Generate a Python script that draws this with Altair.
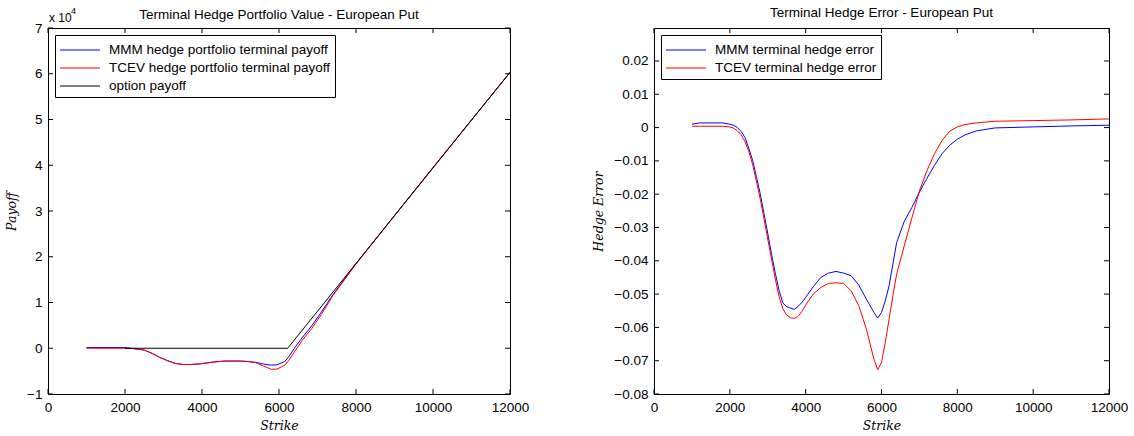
import altair as alt
import pandas as pd

# ---------------- Left panel: terminal hedge portfolio value ----------------
pv_strike = [1000, 2000, 2200, 2500, 2700, 2900, 3100, 3300, 3500, 3700, 3900, 4100,
             4300, 4600, 5000, 5200, 5400, 5600, 5800, 5950, 6150, 6250, 6400, 6600,
             6850, 7100, 7400, 8000, 9000, 10000, 11000, 12000]
pv_mmm = [150, 150, -50, -400, -1100, -2000, -2700, -3300, -3550, -3550, -3450, -3250,
          -3000, -2800, -2800, -2900, -3100, -3450, -3700, -3600, -2900, -1900, 0, 2300,
          4900, 7900, 11700, 18500, 29000, 39500, 49900, 60300]
pv_tcev = [0, 0, -50, -400, -1100, -2000, -2700, -3300, -3550, -3550, -3450, -3250,
           -3000, -2800, -2800, -2900, -3150, -3900, -4600, -4550, -3700, -2700, -800, 1700,
           4300, 7400, 11500, 18400, 29000, 39500, 49900, 60300]
opt_strike = [2000, 6225, 12000]
opt_payoff = [0, 0, 60300]
pv_series = ["MMM hedge portfolio terminal payoff",
             "TCEV hedge portfolio terminal payoff",
             "option payoff"]

# ---------------- Right panel: terminal hedge error ----------------
he_strike = [1000, 1200, 1800, 2000, 2100, 2200, 2300, 2400, 2500, 2600, 2700, 2800,
             2900, 3000, 3100, 3200, 3300, 3400, 3500, 3600, 3700, 3800, 3900, 4000,
             4200, 4400, 4600, 4800, 5000, 5200, 5400, 5600, 5800, 5900, 6000, 6100,
             6200, 6300, 6400, 6600, 6800, 7000, 7200, 7400, 7600, 7800, 8000, 8200,
             8500, 9000, 10000, 11000, 12000]
he_mmm = [0.0010, 0.0014, 0.0014, 0.0010, 0.0007, 0.0000, -0.0012, -0.0030, -0.0062,
          -0.0098, -0.0147, -0.0198, -0.0258, -0.0318, -0.0380, -0.0437, -0.0490,
          -0.0527, -0.0538, -0.0542, -0.0546, -0.0537, -0.0525, -0.0510, -0.0478,
          -0.0450, -0.0437, -0.0432, -0.0437, -0.0445, -0.0473, -0.0515, -0.0555,
          -0.0572, -0.0555, -0.0520, -0.0475, -0.0410, -0.0345, -0.0282, -0.0240,
          -0.0194, -0.0152, -0.0113, -0.0078, -0.0053, -0.0035, -0.0022, -0.0010,
          -0.0001, 0.0002, 0.0005, 0.0007]
he_tcev = [0.0004, 0.0004, 0.0004, 0.0002, -0.0002, -0.0010, -0.0022, -0.0042, -0.0072,
           -0.0110, -0.0160, -0.0213, -0.0272, -0.0335, -0.0395, -0.0455, -0.0508,
           -0.0545, -0.0563, -0.0571, -0.0573, -0.0567, -0.0552, -0.0533, -0.0500,
           -0.0480, -0.0468, -0.0466, -0.0468, -0.0490, -0.0535, -0.0605, -0.0695,
           -0.0727, -0.0705, -0.0645, -0.0575, -0.0505, -0.0440, -0.0355, -0.0272,
           -0.0190, -0.0129, -0.0078, -0.0038, -0.0011, 0.0002, 0.0009, 0.0014,
           0.0019, 0.0021, 0.0023, 0.0026]
he_series = ["MMM terminal hedge error", "TCEV terminal hedge error"]

x_ticks = [0, 2000, 4000, 6000, 8000, 10000, 12000]
pv_y_ticks = [-10000, 0, 10000, 20000, 30000, 40000, 50000, 60000, 70000]
he_y_ticks = [-0.08, -0.07, -0.06, -0.05, -0.04, -0.03, -0.02, -0.01, 0, 0.01, 0.02]

BLUE, RED, BLACK = "#0000ff", "#ff0000", "#000000"
FONT = "Liberation Sans"
SERIF = "DejaVu Serif"
FS = 13.5
TICK = 5

# ---------------- tables ----------------
pv_df = pd.concat([
    pd.DataFrame({"strike": pv_strike, "value": pv_mmm, "series": pv_series[0]}),
    pd.DataFrame({"strike": pv_strike, "value": pv_tcev, "series": pv_series[1]}),
    pd.DataFrame({"strike": opt_strike, "value": opt_payoff, "series": pv_series[2]}),
])
he_df = pd.concat([
    pd.DataFrame({"strike": he_strike, "value": he_mmm, "series": he_series[0]}),
    pd.DataFrame({"strike": he_strike, "value": he_tcev, "series": he_series[1]}),
])


def legend():
    return alt.Legend(
        orient="top-left", title=None, symbolType="M-1,0H3", symbolSize=400,
        symbolStrokeWidth=1.2, strokeColor="black", fillColor="white",
        padding=4, offset=7, labelFont=FONT, labelFontSize=FS, labelColor="black",
        labelOffset=28, rowPadding=0, labelLimit=400,
    )


def panel(df, series, colors, ydom, yticks, ytitle, W, H, label_expr):
    xs = alt.Scale(domain=[0, 12000], nice=False, zero=False)
    ys = alt.Scale(domain=ydom, nice=False, zero=False)
    xaxis = alt.Axis(values=x_ticks, title="Strike", ticks=False, domain=False,
                     grid=False, labelPadding=6, titlePadding=6, format="d",
                     labelFlush=False, labelOverlap=False)
    yaxis = alt.Axis(values=yticks, title=ytitle, ticks=False, domain=False,
                     grid=False, labelPadding=6, titlePadding=8,
                     labelExpr=label_expr, labelFlush=False, labelOverlap=False)
    X = lambda: alt.X("strike:Q", scale=xs, axis=xaxis, title="Strike")
    Y = lambda: alt.Y("value:Q", scale=ys, axis=yaxis, title=ytitle)
    lines = alt.Chart(df).mark_line(strokeWidth=1, clip=True).encode(
        x=X(), y=Y(),
        color=alt.Color("series:N", scale=alt.Scale(domain=series, range=colors),
                        legend=legend()),
        order=alt.Order("strike:Q"),
    )
    xt = pd.DataFrame({"strike": x_ticks})
    yt = pd.DataFrame({"value": yticks})
    bot = alt.Chart(xt).mark_rule(color="black", strokeWidth=1).encode(
        x=X(), y=alt.value(H), y2=alt.value(H - TICK))
    top = alt.Chart(xt).mark_rule(color="black", strokeWidth=1).encode(
        x=X(), y=alt.value(0), y2=alt.value(TICK))
    left = alt.Chart(yt).mark_rule(color="black", strokeWidth=1).encode(
        y=Y(), x=alt.value(0), x2=alt.value(TICK))
    right = alt.Chart(yt).mark_rule(color="black", strokeWidth=1).encode(
        y=Y(), x=alt.value(W), x2=alt.value(W - TICK))
    return [lines, bot, top, left, right]


def title(text, offset):
    return alt.TitleParams(text, font=FONT, fontSize=FS, fontWeight="normal",
                           color="black", offset=offset, anchor="middle")


exp_df = pd.DataFrame({"t": ["x 10"], "s": ["4"]})
exp_base = alt.Chart(exp_df).mark_text(align="left", baseline="alphabetic", font=FONT,
                                       fontSize=12, color="black").encode(
    text="t:N", x=alt.value(1), y=alt.value(-6))
exp_sup = alt.Chart(exp_df).mark_text(align="left", baseline="alphabetic", font=FONT,
                                      fontSize=9, color="black").encode(
    text="s:N", x=alt.value(23), y=alt.value(-14))

left_layers = panel(pv_df, pv_series, [BLUE, RED, BLACK], [-10000, 70000], pv_y_ticks,
                    "Payoff", 462, 366, "format(datum.value / 10000, 'd')")
left_panel = alt.layer(*left_layers, exp_base, exp_sup).properties(
    width=462, height=366,
    title=title("Terminal Hedge Portfolio Value - European Put", -14))

right_layers = panel(he_df, he_series, [BLUE, RED], [-0.08, 0.0299], he_y_ticks,
                     "Hedge Error", 455, 366, "format(datum.value, '.2~f')")
right_panel = alt.layer(*right_layers).properties(
    width=455, height=366,
    title=title("Terminal Hedge Error - European Put", 8))

chart = alt.hconcat(left_panel, right_panel, spacing=62).resolve_scale(
    color="independent", x="independent", y="independent"
).configure(
    padding={"left": 5, "top": 5, "right": 0, "bottom": 0},
    background="white",
).configure_view(
    stroke="black", strokeWidth=1,
).configure_axis(
    labelFont=FONT, labelFontSize=FS, labelColor="black",
    titleFont=SERIF, titleFontSize=12.5, titleFontStyle="italic", titleFontWeight="normal",
    titleColor="black",
)

chart.save("out.html", embed_options={"renderer": "svg", "actions": False})
